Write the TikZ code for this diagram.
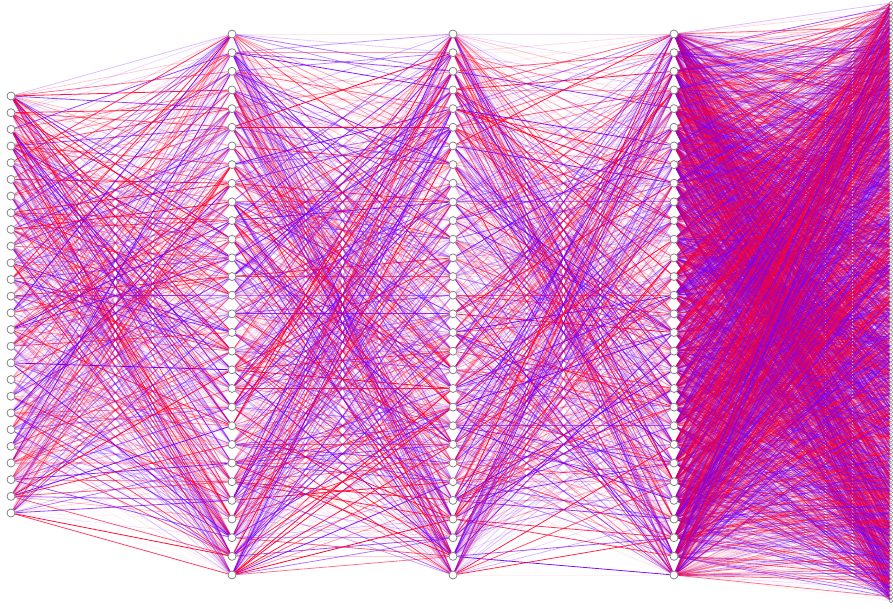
\documentclass[tikz,border=0pt]{standalone}
\usetikzlibrary{backgrounds}
\definecolor{ered}{RGB}{255,0,45}
\definecolor{eblue}{RGB}{118,0,255}
\definecolor{ngray}{RGB}{125,125,125}
\tikzset{
  neuron/.style={circle,draw=ngray,fill=white,line width=0.75pt,inner sep=0pt,minimum size=8pt},
  tinyneuron/.style={circle,draw=ngray,fill=white,line width=0.4pt,inner sep=0pt,minimum size=3.6pt},
  edge/.style={line width=0.8pt}
}
\begin{document}
\begin{tikzpicture}[x=1pt,y=-1pt]
\useasboundingbox (0,0) rectangle (893,608);
\pgfmathsetseed{12345}
% layers of neurons
\foreach \i in {1,...,26}{\node[neuron] (a\i) at (11,{96+(\i-1)*16.68}) {};}
\foreach \L/\X in {b/232,c/453,d/674}{
  \foreach \i in {1,...,30}{\node[neuron] (\L\i) at (\X,{34+(\i-1)*18.655}) {};}
}
\foreach \i in {1,...,150}{\node[tinyneuron] (e\i) at (891,{3+(\i-1)*4.013}) {};}
% connections
\begin{pgfonlayer}{background}
\foreach \s/\t/\m/\n/\p/\k in {a/b/26/30/3.0/1, b/c/30/30/3.0/1, c/d/30/30/3.0/1, d/e/30/150/3.4/0.8}{
  \foreach \i in {1,...,\m}{
    \foreach \j in {1,...,\n}{
      \pgfmathsetmacro{\op}{round(20*\k*(rnd^\p))/20}
      \pgfmathsetmacro{\cc}{rnd}
      \ifdim\op pt>0.01pt
        \ifdim\cc pt<0.5pt
          \draw[edge,draw=ered,draw opacity=\op] (\s\i) -- (\t\j);
        \else
          \draw[edge,draw=eblue,draw opacity=\op] (\s\i) -- (\t\j);
        \fi
      \fi
    }
  }
}
\end{pgfonlayer}
\end{tikzpicture}
\end{document}
